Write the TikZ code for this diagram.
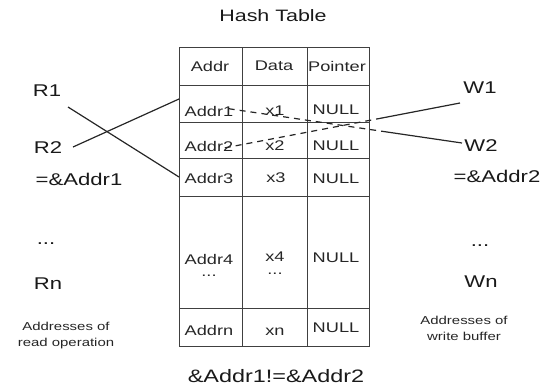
\documentclass[tikz,border=0pt]{standalone}
\usepackage{fontspec}
\setmainfont{Liberation Sans}[FakeStretch=1.3]
\begin{document}
\begin{tikzpicture}[x=1pt,y=-1pt,
  lbl/.style={inner sep=0pt, font=\fontsize{17}{20}\selectfont, text=black!90},
  ttl/.style={inner sep=0pt, font=\fontsize{16.5}{20}\selectfont, text=black!90},
  cell/.style={inner sep=0pt, font=\fontsize{14}{16}\selectfont, text=black!85},
  note/.style={inner sep=0pt, font=\fontsize{11.5}{16}\selectfont, align=center, text=black!85},
  link/.style={line width=1.2pt, black!85},
  dlink/.style={link, dash pattern=on 6pt off 5pt},
  gridline/.style={line width=0.9pt, black!75}]
\useasboundingbox (0,0) rectangle (544,389);

% title and bottom note
\node[ttl] (title) at (273,16) {Hash Table};
\node[lbl, font=\fontsize{18}{20}\selectfont] (neq) at (276,376) {\&Addr1!=\&Addr2};

% hash table grid
\draw[gridline] (179,47) rectangle (369,346);
\foreach \y in {85,122,158,196,308} \draw[gridline] (179,\y) -- (369,\y);
\foreach \x in {242,307} \draw[gridline] (\x,47) -- (\x,346);

% header
\node[cell] (hA) at (210,66) {Addr};
\node[cell] (hD) at (274,66) {Data};
\node[cell] (hP) at (337,66) {Pointer};
% rows
\node[cell] (a1) at (209,111) {Addr1};
\node[cell] (d1) at (275,111) {x1};
\node[cell] (p1) at (336,110) {NULL};
\node[cell] (a2) at (209,146) {Addr2};
\node[cell] (d2) at (275,146) {x2};
\node[cell] (p2) at (336,146) {NULL};
\node[cell] (a3) at (209,178) {Addr3};
\node[cell] (d3) at (276,178) {x3};
\node[cell] (p3) at (336,179) {NULL};
\node[cell] (a4) at (209,259) {Addr4};
\node[cell] (a4d) at (209,276) {...};
\node[cell] (d4) at (275,257) {x4};
\node[cell] (d4d) at (275,274) {...};
\node[cell] (p4) at (336,258) {NULL};
\node[cell] (an) at (209,330) {Addrn};
\node[cell] (dn) at (275,332) {xn};
\node[cell] (pn) at (336,328) {NULL};

% read side
\node[lbl] (R1) at (47,91) {R1};
\node[lbl] (R2) at (48,148) {R2};
\node[lbl] (eq1) at (79,179) {=\&Addr1};
\node[lbl] (rdots) at (46,244) {...};
\node[lbl] (Rn) at (48,284) {Rn};
\node[note] (rnote) at (66,336) {Addresses of\\read operation};

% write side
\node[lbl] (W1) at (480,88) {W1};
\node[lbl] (W2) at (481,146) {W2};
\node[lbl] (eq2) at (497,176) {=\&Addr2};
\node[lbl] (wdots) at (480,246) {...};
\node[lbl] (Wn) at (481,282) {Wn};
\node[note] (wnote) at (464,328) {Addresses of\\write buffer};

% connector end points
\coordinate (r1end) at (68,107);
\coordinate (r2end) at (73,147);
\coordinate (a1in) at (179,99);
\coordinate (a3in) at (179,177);
\coordinate (w1end) at (460,103);
\coordinate (w1mid) at (382,118);
\coordinate (w1tip) at (224,148);
\coordinate (w2end) at (462,143);
\coordinate (w2mid) at (387,132);
\coordinate (w2tip) at (224,108);

% read connectors
\draw[link] (r1end) -- (a3in);
\draw[link] (r2end) -- (a1in);

% write connectors
\draw[link] (w1end) -- (w1mid);
\draw[dlink] (w1mid) -- (w1tip);
\draw[link] (w2end) -- (w2mid);
\draw[dlink] (w2mid) -- (w2tip);
\end{tikzpicture}
\end{document}
